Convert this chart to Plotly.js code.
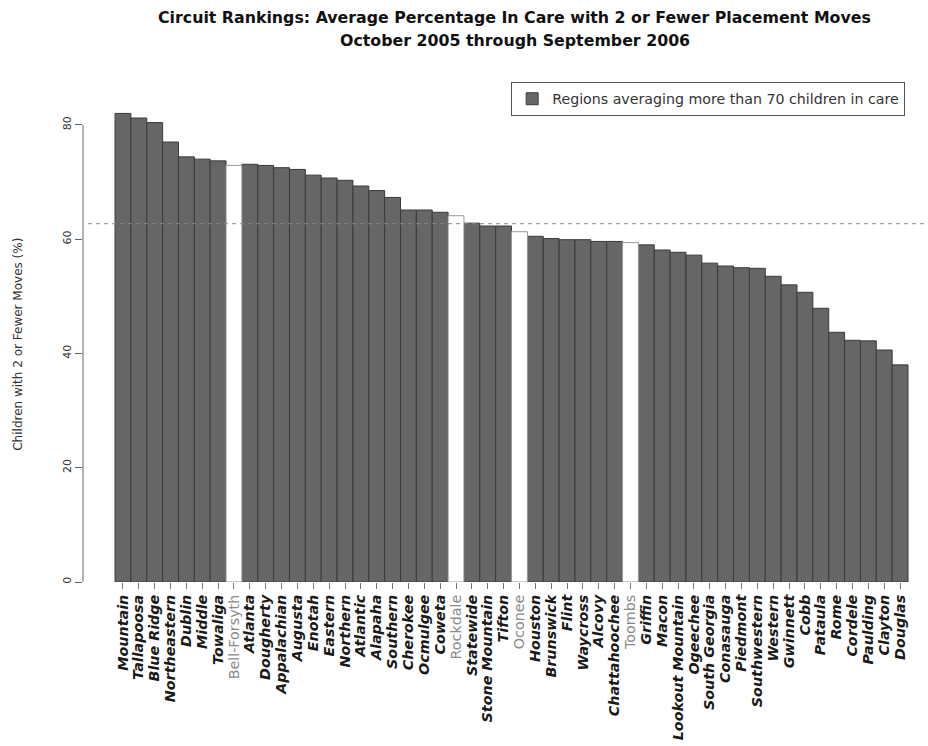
<!DOCTYPE html>
<html>
<head>
<meta charset="utf-8">
<script src="https://cdn.plot.ly/plotly-3.0.1.min.js"></script>
<style>
html,body{margin:0;padding:0;background:#fff;}
#chart{width:928px;height:746px;}
</style>
</head>
<body>
<div id="chart"></div>
<script>
var categories = ["Mountain","Tallapoosa","Blue Ridge","Northeastern","Dublin","Middle","Towaliga","Bell-Forsyth","Atlanta","Dougherty","Appalachian","Augusta","Enotah","Eastern","Northern","Atlantic","Alapaha","Southern","Cherokee","Ocmulgee","Coweta","Rockdale","Statewide","Stone Mountain","Tifton","Oconee","Houston","Brunswick","Flint","Waycross","Alcovy","Chattahoochee","Toombs","Griffin","Macon","Lookout Mountain","Ogeechee","South Georgia","Conasauga","Piedmont","Southwestern","Western","Gwinnett","Cobb","Pataula","Rome","Cordele","Paulding","Clayton","Douglas"];
var values = [82.0,81.2,80.4,77.0,74.4,74.0,73.7,72.9,73.1,72.9,72.5,72.2,71.2,70.7,70.3,69.3,68.5,67.3,65.1,65.1,64.7,64.1,62.8,62.3,62.3,61.3,60.5,60.1,59.9,59.9,59.6,59.6,59.4,59.0,58.1,57.7,57.2,55.8,55.3,55.0,54.9,53.5,52.0,50.7,47.9,43.7,42.3,42.2,40.6,38.0];
var bigRegion = [1,1,1,1,1,1,1,0,1,1,1,1,1,1,1,1,1,1,1,1,1,0,1,1,1,0,1,1,1,1,1,1,0,1,1,1,1,1,1,1,1,1,1,1,1,1,1,1,1,1];
var statewideAverage = 62.7;
var yTicks = [0,20,40,60,80];
var legendLabel = "Regions averaging more than 70 children in care";
var titleLine1 = "Circuit Rankings: Average Percentage In Care with 2 or Fewer Placement Moves";
var titleLine2 = "October 2005 through September 2006";
var yTitle = "Children with 2 or Fewer Moves (%)";

var xBig=[], yBig=[], xSmall=[], ySmall=[], tickvals=[], ticktext=[];
for (var i=0;i<categories.length;i++){
  tickvals.push(i);
  if (bigRegion[i]) {
    xBig.push(i); yBig.push(values[i]);
    ticktext.push("<b><i>"+categories[i]+"</i></b>");
  } else {
    xSmall.push(i); ySmall.push(values[i]);
    ticktext.push("<span style='color:#8a8a8a'>"+categories[i]+"</span>");
  }
}

var font = "DejaVu Sans, Liberation Sans, Arial, sans-serif";

var traces = [
  {type:"bar", x:xBig, y:yBig, name:legendLabel, width:1,
   marker:{color:"#666666", line:{color:"#3a3a3a", width:1}}, hoverinfo:"skip"},
  {type:"bar", x:xSmall, y:ySmall, name:"small", showlegend:false, width:1,
   marker:{color:"#ffffff", line:{color:"#9a9a9a", width:1}}, hoverinfo:"skip"}
];

var layout = {
  width:928, height:746,
  margin:{l:83, r:0, t:80, b:163.5, pad:0},
  paper_bgcolor:"#fff", plot_bgcolor:"#fff",
  font:{family:font, color:"#222"},
  barmode:"overlay", bargap:0,
  showlegend:true,
  legend:{x:0.973, xanchor:"right", y:0.996, yanchor:"top", bordercolor:"#555", borderwidth:1,
          bgcolor:"#fff", font:{size:14.2, family:font, color:"#333"}, itemwidth:30},
  xaxis:{range:[-2.52,50.76], tickmode:"array", tickvals:tickvals, ticktext:ticktext,
         tickangle:-90, ticks:"outside", ticklen:6, tickcolor:"#777", tickwidth:1,
         tickfont:{size:14.3, family:font, color:"#1a1a1a"}, showgrid:false, zeroline:false, showline:false, fixedrange:true},
  yaxis:{range:[0,87.85], tickmode:"array", tickvals:yTicks, ticktext:yTicks.map(String),
         tickangle:-90, ticks:"outside", ticklen:7, tickcolor:"#666", tickwidth:1,
         tickfont:{size:11, family:font, color:"#333"}, showgrid:false, zeroline:false, showline:false},
  annotations:[
    {text:"<b>"+titleLine1+"</b>", xref:"paper", yref:"paper", x:0.511, y:1.1254, xanchor:"center", yanchor:"middle",
     showarrow:false, font:{size:15.8, family:font, color:"#111"}},
    {text:"<b>"+titleLine2+"</b>", xref:"paper", yref:"paper", x:0.511, y:1.0796, xanchor:"center", yanchor:"middle",
     showarrow:false, font:{size:15.8, family:font, color:"#111"}},
    {text:yTitle, xref:"paper", yref:"paper", x:-0.0769, y:0.4726, xanchor:"center", yanchor:"middle",
     textangle:-90, showarrow:false, font:{size:12, family:font, color:"#333"}}
  ],
  shapes:[
    {type:"line", xref:"paper", yref:"y", x0:0, x1:0, y0:yTicks[0], y1:yTicks[yTicks.length-1],
     line:{color:"#666", width:1}},
    {type:"line", xref:"paper", yref:"y", x0:0.006, x1:1, y0:statewideAverage, y1:statewideAverage,
     line:{color:"#888", width:1, dash:"4px,4px"}}
  ]
};

Plotly.newPlot("chart", traces, layout, {displayModeBar:false, staticPlot:true});
</script>
</body>
</html>
